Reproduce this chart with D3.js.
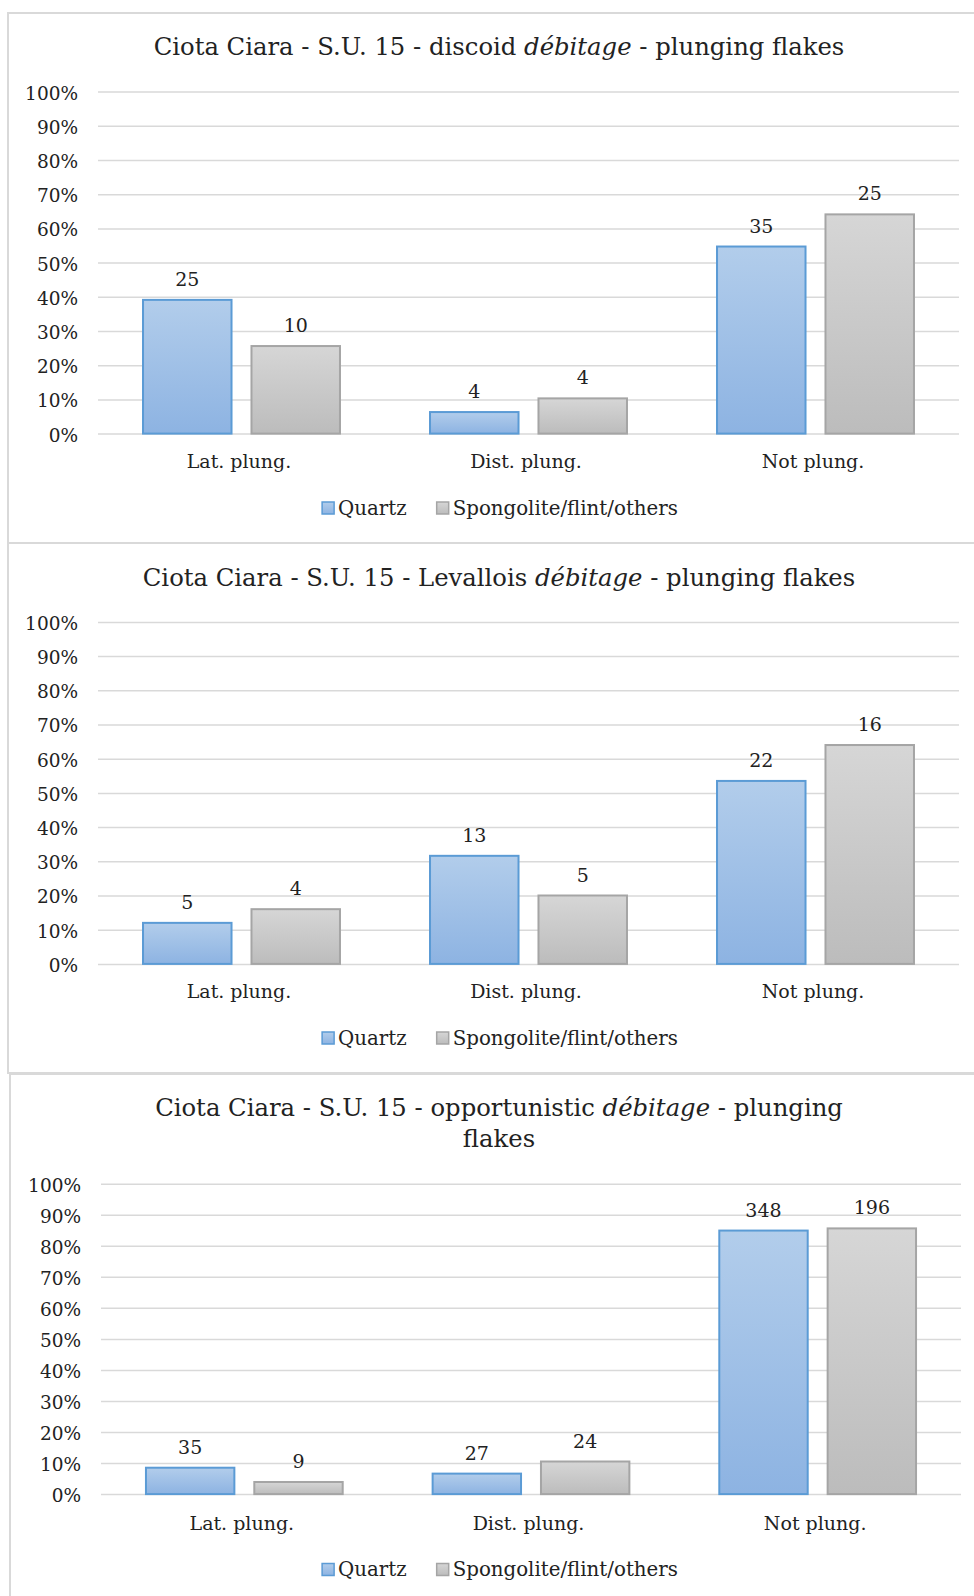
<!DOCTYPE html>
<html>
<head>
<meta charset="utf-8">
<script src="https://cdn.jsdelivr.net/npm/d3@7"></script>
<style>
  body { margin: 0; background: #fff; }
  svg { display: block; }
  text { font-family: "DejaVu Serif", serif; fill: #222; }
</style>
</head>
<body>
<svg id="chart" width="974" height="1596"></svg>
<script>
// categories and series
const categories = ["Lat. plung.", "Dist. plung.", "Not plung."];
const seriesNames = ["Quartz", "Spongolite/flint/others"];
const yTicks = [0, 10, 20, 30, 40, 50, 60, 70, 80, 90, 100];

// discoid débitage
const discoidQuartzPct = [39.1, 6.3, 54.7];
const discoidOtherPct = [25.6, 10.3, 64.1];
const discoidQuartzN = [25, 4, 35];
const discoidOtherN = [10, 4, 25];

// Levallois débitage
const levalloisQuartzPct = [12.0, 31.6, 53.5];
const levalloisOtherPct = [16.0, 20.0, 64.0];
const levalloisQuartzN = [5, 13, 22];
const levalloisOtherN = [4, 5, 16];

// opportunistic débitage
const opportQuartzPct = [8.5, 6.6, 84.9];
const opportOtherPct = [3.9, 10.5, 85.6];
const opportQuartzN = [35, 27, 348];
const opportOtherN = [9, 24, 196];

const svg = d3.select("#chart");

// gradients like the Excel fills
const defs = svg.append("defs");
const fills = [
    { id: "gradBlue", top: "#b2cdeb", bottom: "#8db3e2", stroke: "#5b9bd5" },
    { id: "gradGray", top: "#d6d6d6", bottom: "#bcbcbc", stroke: "#a5a5a5" }
];
fills.forEach(f => {
    const g = defs.append("linearGradient")
        .attr("id", f.id)
        .attr("x1", 0).attr("y1", 0).attr("x2", 0).attr("y2", 1);
    g.append("stop").attr("offset", "0%").attr("stop-color", f.top);
    g.append("stop").attr("offset", "100%").attr("stop-color", f.bottom);
});

const panels = [
    {
        title: [["Ciota Ciara - S.U. 15 - discoid ", "débitage", " - plunging flakes"]],
        pct: [discoidQuartzPct, discoidOtherPct],
        counts: [discoidQuartzN, discoidOtherN],
        boxLeft: 8, boxTop: 13, boxBottom: 543,
        x0: 98, x1: 959, yTop: 91.6, yBottom: 433.6,
        titleY: [46.8], catY: 461, legendY: 508
    },
    {
        title: [["Ciota Ciara - S.U. 15 - Levallois ", "débitage", " - plunging flakes"]],
        pct: [levalloisQuartzPct, levalloisOtherPct],
        counts: [levalloisQuartzN, levalloisOtherN],
        boxLeft: 8, boxTop: 543, boxBottom: 1073,
        x0: 98, x1: 959, yTop: 621.9, yBottom: 963.9,
        titleY: [577], catY: 991, legendY: 1038
    },
    {
        title: [["Ciota Ciara - S.U. 15 - opportunistic ", "débitage", " - plunging"], ["flakes"]],
        pct: [opportQuartzPct, opportOtherPct],
        counts: [opportQuartzN, opportOtherN],
        boxLeft: 10, boxTop: 1074, boxBottom: 1620,
        x0: 101, x1: 961, yTop: 1183.7, yBottom: 1494.1,
        titleY: [1107, 1138], catY: 1523, legendY: 1569.5
    }
];

panels.forEach(p => drawPanel(p));

function drawPanel(p) {
    const centerX = 499;

    // chart area border
    svg.append("rect")
        .attr("x", p.boxLeft)
        .attr("y", p.boxTop)
        .attr("width", 1100)
        .attr("height", p.boxBottom - p.boxTop)
        .attr("fill", "none")
        .attr("stroke", "#d9d9d9")
        .attr("stroke-width", 2);

    const g = svg.append("g");

    // title
    p.title.forEach((line, i) => {
        const t = g.append("text")
            .attr("x", centerX)
            .attr("y", p.titleY[i])
            .attr("dy", "0.35em")
            .attr("text-anchor", "middle")
            .style("font-size", "24.3px");
        line.forEach((part, j) => {
            t.append("tspan")
                .style("font-style", j === 1 ? "italic" : "normal")
                .text(part);
        });
    });

    // scales
    const x = d3.scaleBand()
        .domain(categories)
        .range([p.x0, p.x1])
        .padding(0);

    const xInner = d3.scaleBand()
        .domain(seriesNames)
        .range([0, x.bandwidth()])
        .paddingInner(0.184)
        .paddingOuter(0.415);

    const y = d3.scaleLinear()
        .domain([0, 100])
        .range([p.yBottom, p.yTop]);

    // gridlines + y labels
    const yAxis = g.append("g")
        .attr("transform", `translate(${p.x0},0)`)
        .call(d3.axisLeft(y)
            .tickValues(yTicks)
            .tickSize(-(p.x1 - p.x0))
            .tickPadding(20)
            .tickFormat(d => d + "%"));
    yAxis.select(".domain").remove();
    yAxis.selectAll(".tick line")
        .attr("stroke", "#d9d9d9")
        .attr("stroke-width", 1.5);
    yAxis.selectAll(".tick text")
        .attr("dy", "0.4em")
        .style("font-size", "18.5px")
        .style("font-family", "DejaVu Serif")
        .attr("fill", "#222");

    // bars
    seriesNames.forEach((s, si) => {
        const f = fills[si];
        g.selectAll(null)
            .data(categories)
            .join("rect")
            .attr("x", d => x(d) + xInner(s))
            .attr("y", (d, i) => y(p.pct[si][i]))
            .attr("width", xInner.bandwidth())
            .attr("height", (d, i) => y(0) - y(p.pct[si][i]))
            .attr("fill", `url(#${f.id})`)
            .attr("stroke", f.stroke)
            .attr("stroke-width", 2);

        // count labels above bars
        g.selectAll(null)
            .data(categories)
            .join("text")
            .attr("x", d => x(d) + xInner(s) + xInner.bandwidth() / 2)
            .attr("y", (d, i) => y(p.pct[si][i]) - 14)
            .attr("text-anchor", "middle")
            .style("font-size", "19px")
            .text((d, i) => p.counts[si][i]);
    });

    // category labels
    g.selectAll(null)
        .data(categories)
        .join("text")
        .attr("x", d => x(d) + x.bandwidth() / 2 - 2.5)
        .attr("y", p.catY)
        .attr("dy", "0.35em")
        .attr("text-anchor", "middle")
        .style("font-size", "19px")
        .text(d => d);

    // legend
    const legend = g.append("g");
    let cursor = 0;
    seriesNames.forEach((s, si) => {
        const item = legend.append("g").attr("transform", `translate(${cursor},0)`);
        item.append("rect")
            .attr("x", 0)
            .attr("y", -6)
            .attr("width", 12)
            .attr("height", 12)
            .attr("fill", `url(#${fills[si].id})`)
            .attr("stroke", fills[si].stroke)
            .attr("stroke-width", 1.5);
        const t = item.append("text")
            .attr("x", 16)
            .attr("dy", "0.35em")
            .style("font-size", "19.8px")
            .text(s);
        cursor += 16 + t.node().getComputedTextLength() + 30;
    });
    const legendWidth = cursor - 30;
    legend.attr("transform", `translate(${centerX + 1 - legendWidth / 2},${p.legendY})`);
}
</script>
</body>
</html>
